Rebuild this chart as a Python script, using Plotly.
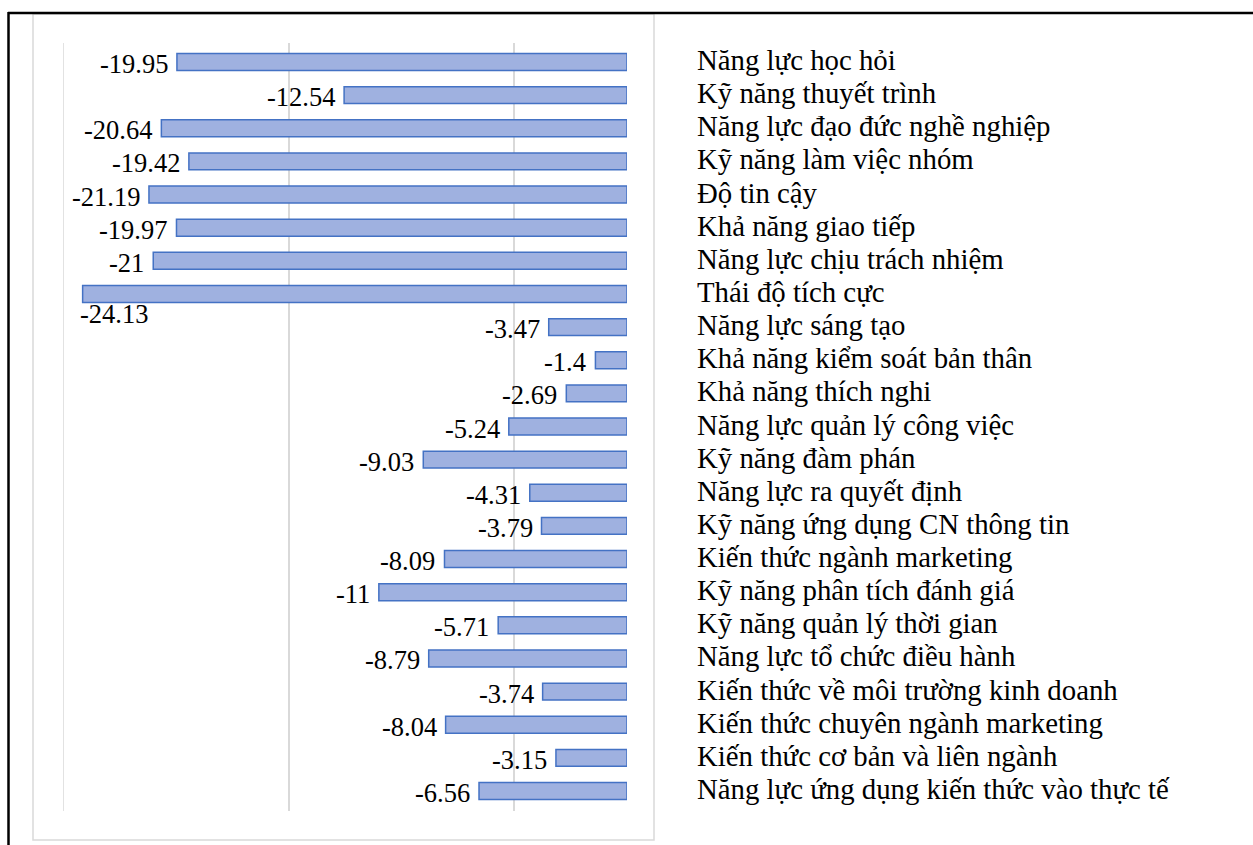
import plotly.graph_objects as go

categories = [
    "Năng lực học hỏi",
    "Kỹ năng thuyết trình",
    "Năng lực đạo đức nghề nghiệp",
    "Kỹ năng làm việc nhóm",
    "Độ tin cậy",
    "Khả năng giao tiếp",
    "Năng lực chịu trách nhiệm",
    "Thái độ tích cực",
    "Năng lực sáng tạo",
    "Khả năng kiểm soát bản thân",
    "Khả năng thích nghi",
    "Năng lực quản lý công việc",
    "Kỹ năng đàm phán",
    "Năng lực ra quyết định",
    "Kỹ năng ứng dụng CN thông tin",
    "Kiến thức ngành marketing",
    "Kỹ năng phân tích đánh giá",
    "Kỹ năng quản lý thời gian",
    "Năng lực tổ chức điều hành",
    "Kiến thức về môi trường kinh doanh",
    "Kiến thức chuyên ngành marketing",
    "Kiến thức cơ bản và liên ngành",
    "Năng lực ứng dụng kiến thức vào thực tế",
]
values = [-19.95, -12.54, -20.64, -19.42, -21.19, -19.97, -21, -24.13, -3.47, -1.4,
          -2.69, -5.24, -9.03, -4.31, -3.79, -8.09, -11, -5.71, -8.79, -3.74, -8.04,
          -3.15, -6.56]
x_min, x_max = -25, 0
grid_ticks = [-25, -15, -5]

FONT = "Times New Roman, Liberation Serif, serif"
FS_VAL = 26.5
FS_CAT = 28.8

fig = go.Figure()
fig.add_trace(go.Bar(
    x=values, y=categories, orientation="h",
    marker=dict(color="#9fb1e0", line=dict(color="#4472c4", width=1.5)),
    hoverinfo="x+y",
))

W, H = 1253, 845
L, R, T, B = 63, 627, 43, 811  # plot area pixel box
pw, ph = R - L, B - T

def px(x):
    return (x - L) / pw

def py(y):
    return (B - y) / ph

annotations = []
for c, v in zip(categories, values):
    lab = f"{v:g}"
    if v < -22:
        annotations.append(dict(x=v, y=c, xref="x", yref="y", text=lab, showarrow=False,
                                xanchor="left", yanchor="middle", xshift=-5, yshift=-20,
                                font=dict(family=FONT, size=FS_VAL, color="black")))
    else:
        annotations.append(dict(x=v, y=c, xref="x", yref="y", text=lab, showarrow=False,
                                xanchor="right", yanchor="middle", xshift=-7, yshift=-2,
                                font=dict(family=FONT, size=FS_VAL, color="black")))
    annotations.append(dict(x=px(697), y=c, xref="paper", yref="y", text=c, showarrow=False,
                            xanchor="left", yanchor="middle", xshift=-2, yshift=2,
                            font=dict(family=FONT, size=FS_CAT, color="black")))

shapes = [
    # chart area frame
    dict(type="rect", xref="paper", yref="paper", x0=px(33), x1=px(654), y0=py(840), y1=py(14),
         line=dict(color="#d9d9d9", width=1.5), layer="below"),
    # gridline at the axis minimum (plotly omits the edge grid line)
    dict(type="line", xref="x", yref="paper", x0=x_min, x1=x_min, y0=0, y1=1,
         line=dict(color="#d9d9d9", width=1.5), layer="below"),
    # outer black border (top and left)
    dict(type="line", xref="paper", yref="paper", x0=px(8), x1=px(1260), y0=py(13), y1=py(13),
         line=dict(color="black", width=2.5)),
    dict(type="line", xref="paper", yref="paper", x0=px(8.5), x1=px(8.5), y0=py(12), y1=py(850),
         line=dict(color="black", width=2.5)),
]

fig.update_layout(
    width=W, height=H,
    margin=dict(l=L, r=W - R, t=T, b=H - B, pad=0),
    paper_bgcolor="white", plot_bgcolor="white",
    showlegend=False,
    bargap=0.49,
    annotations=annotations,
    shapes=shapes,
    xaxis=dict(range=[x_min, x_max], tickvals=grid_ticks, showticklabels=False,
               showgrid=True, gridcolor="#d9d9d9", gridwidth=1.5, zeroline=False,
               showline=False, ticks=""),
    yaxis=dict(categoryorder="array", categoryarray=categories, autorange="reversed",
               showticklabels=False, showgrid=False, zeroline=False, showline=False, ticks=""),
)

fig.write_html("out.html")
